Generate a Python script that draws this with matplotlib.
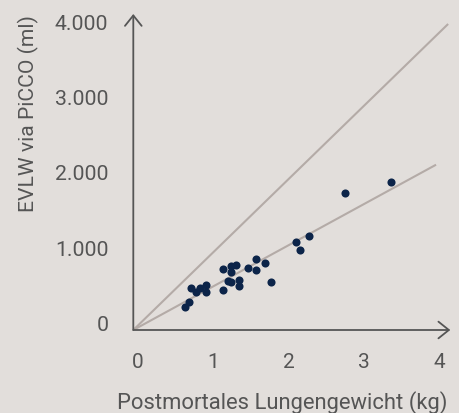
import matplotlib.pyplot as plt
from matplotlib.transforms import ScaledTranslation

# Postmortem lung weight (kg) vs EVLW measured via PiCCO (ml)
lung_weight_kg = [0.68, 0.74, 0.77, 0.83, 0.88, 0.96, 0.96, 1.19, 1.19, 1.25, 1.29, 1.30,
                  1.36, 1.30, 1.40, 1.40, 1.52, 1.63, 1.63, 1.75, 1.83, 2.16, 2.21, 2.33,
                  2.80, 3.41]
evlw_ml = [309, 368, 562, 500, 562, 602, 500, 806, 531, 655, 766, 854,
           863, 633, 664, 589, 828, 943, 797, 885, 642, 1173, 1058, 1248,
           1819, 1960]

# reference lines: identity-like diagonal and the fitted regression line
diag_x = [0.0, 4.17]
diag_y = [0.0, 4064.0]
fit_x = [0.0, 4.01]
fit_y = [0.0, 2195.0]

x_ticks = [0, 1, 2, 3, 4]
x_tick_labels = ["0", "1", "2", "3", "4"]
y_ticks = [0, 1000, 2000, 3000, 4000]
y_tick_labels = ["0", "1.000", "2.000", "3.000", "4.000"]

background = "#e2dedb"
axis_color = "#555555"
line_color = "#b4aba7"
dot_color = "#0c2449"

plt.rcParams["font.family"] = ["Roboto", "DejaVu Sans"]

fig = plt.figure(figsize=(4.6, 4.14), dpi=100)
fig.patch.set_facecolor(background)
ax = fig.add_axes([133.3 / 460, 83 / 414, 317 / 460, 316 / 414])
ax.set_facecolor(background)

ax.plot(diag_x, diag_y, color=line_color, linewidth=1.5, solid_capstyle="butt", zorder=2)
ax.plot(fit_x, fit_y, color=line_color, linewidth=1.5, solid_capstyle="butt", zorder=2)
ax.scatter(lung_weight_kg, evlw_ml, s=34, color=dot_color, linewidths=0, zorder=3)

ax.set_xlim(0, 317 / 75.5)
ax.set_ylim(0, 316 / 75.3 * 1000)

for side in ["top", "right", "left", "bottom"]:
    ax.spines[side].set_visible(False)

# axes drawn as open arrows
arrow_style = "->,head_length=0.75,head_width=0.6"
ax.annotate("", xy=(0, 1), xytext=(0, 0), xycoords="axes fraction",
            arrowprops=dict(arrowstyle=arrow_style, color=axis_color, lw=1.3,
                            shrinkA=0, shrinkB=0), annotation_clip=False)
ax.annotate("", xy=(1, 0), xytext=(0, 0), xycoords="axes fraction",
            arrowprops=dict(arrowstyle=arrow_style, color=axis_color, lw=1.3,
                            shrinkA=0, shrinkB=0), annotation_clip=False)

ax.set_xticks(x_ticks)
ax.set_xticklabels(x_tick_labels)
ax.set_yticks(y_ticks)
ax.set_yticklabels(y_tick_labels)
ax.tick_params(axis="x", length=0, pad=22.5, labelsize=15, labelcolor=axis_color)
ax.tick_params(axis="y", length=0, pad=18, labelsize=15.3, labelcolor=axis_color)
for label in ax.get_xticklabels():
    label.set_verticalalignment("center")
    label.set_transform(label.get_transform() + ScaledTranslation(4.5 / 100, 0, fig.dpi_scale_trans))
for label in ax.get_yticklabels():
    label.set_transform(label.get_transform() + ScaledTranslation(0, 7.5 / 100, fig.dpi_scale_trans))

fig.text(282 / 460, 1 - 403 / 414, "Postmortales Lungengewicht (kg)", ha="center", va="center",
         fontsize=15.8, color=axis_color)
fig.text(28 / 460, 1 - 114 / 414, "EVLW via PiCCO (ml)", ha="center", va="center",
         rotation=90, fontsize=15.2, color=axis_color)

fig.savefig("out.png", dpi=100, facecolor=background)
